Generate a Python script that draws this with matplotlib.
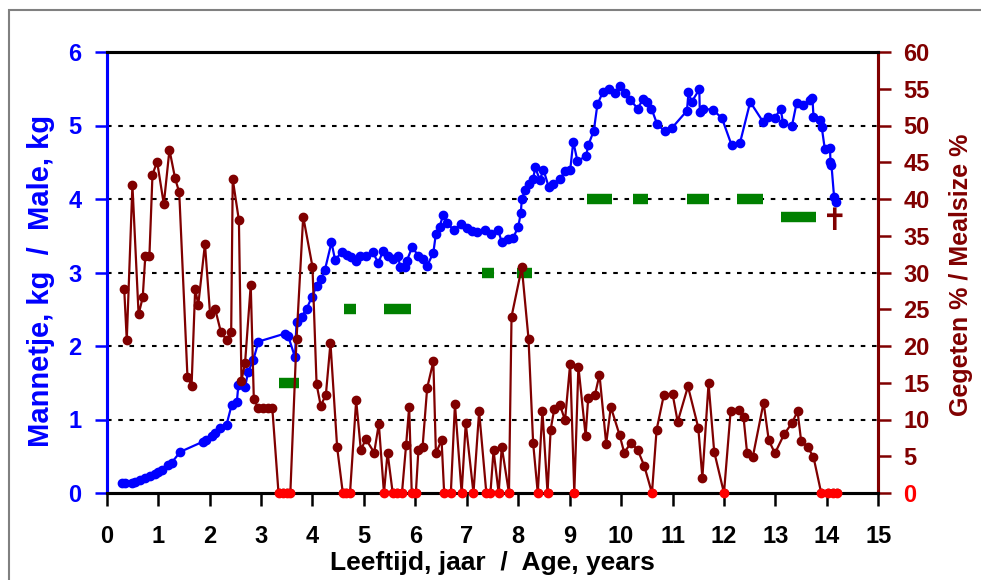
import matplotlib
matplotlib.use("Agg")
import matplotlib.pyplot as plt
from matplotlib.patches import Rectangle

plt.rcParams["font.family"] = ["Liberation Sans", "DejaVu Sans"]
plt.rcParams["font.weight"] = "bold"

# male weight (kg) against age (years)
age_kg = [0.29, 0.35, 0.49, 0.55, 0.65, 0.75, 0.84, 0.94, 1.00, 1.07, 1.20, 1.26, 1.43,
          1.88, 1.94, 2.04, 2.11, 2.20, 2.33, 2.43, 2.53, 2.56, 2.69, 2.75, 2.85, 2.95,
          3.47, 3.53, 3.66, 3.69, 3.79, 3.89, 3.99, 4.08, 4.16, 4.24, 4.37, 4.44, 4.57,
          4.67, 4.74, 4.85, 4.92, 5.04, 5.17, 5.28, 5.37, 5.46, 5.57, 5.67, 5.70, 5.80,
          5.83, 5.94, 6.06, 6.15, 6.23, 6.35, 6.40, 6.47, 6.54, 6.61, 6.75, 6.88, 7.00,
          7.10, 7.19, 7.35, 7.48, 7.61, 7.68, 7.81, 7.90, 8.00, 8.05, 8.07, 8.13, 8.20,
          8.29, 8.33, 8.42, 8.49, 8.59, 8.68, 8.81, 8.91, 9.01, 9.07, 9.15, 9.32, 9.36,
          9.47, 9.54, 9.65, 9.77, 9.88, 9.98, 10.08, 10.18, 10.32, 10.43, 10.50, 10.59,
          10.70, 10.85, 10.98, 11.28, 11.31, 11.37, 11.52, 11.53, 11.60, 11.79, 11.96,
          12.15, 12.31, 12.51, 12.76, 12.86, 12.99, 13.10, 13.15, 13.32, 13.41, 13.54,
          13.67, 13.72, 13.74, 13.87, 13.90, 13.96, 14.06, 14.07, 14.09, 14.14, 14.18]
weight_kg = [0.14, 0.14, 0.14, 0.15, 0.18, 0.20, 0.23, 0.26, 0.28, 0.31, 0.38, 0.41, 0.56,
             0.70, 0.72, 0.77, 0.81, 0.88, 0.93, 1.20, 1.24, 1.47, 1.44, 1.65, 1.81, 2.06,
             2.17, 2.13, 1.85, 2.32, 2.40, 2.51, 2.67, 2.81, 2.91, 3.03, 3.41, 3.17, 3.28,
             3.24, 3.21, 3.15, 3.22, 3.22, 3.28, 3.13, 3.29, 3.22, 3.19, 3.22, 3.08, 3.07,
             3.15, 3.35, 3.22, 3.19, 3.09, 3.27, 3.53, 3.62, 3.78, 3.67, 3.58, 3.66, 3.60,
             3.57, 3.55, 3.58, 3.53, 3.58, 3.41, 3.45, 3.47, 3.62, 3.81, 4.00, 4.12, 4.20,
             4.27, 4.43, 4.26, 4.40, 4.17, 4.21, 4.27, 4.38, 4.39, 4.78, 4.52, 4.58, 4.73,
             4.93, 5.29, 5.46, 5.49, 5.44, 5.54, 5.44, 5.35, 5.23, 5.36, 5.32, 5.23,
             5.02, 4.92, 4.96, 5.20, 5.45, 5.32, 5.49, 5.19, 5.23, 5.21, 5.10,
             4.73, 4.76, 5.32, 5.05, 5.11, 5.10, 5.23, 5.03, 4.99, 5.30, 5.28,
             5.35, 5.37, 5.12, 5.07, 4.98, 4.68, 4.70, 4.51, 4.46, 4.03, 3.96]

# meal size (% of body weight) against age (years)
age_meal = [0.34, 0.39, 0.50, 0.62, 0.70, 0.75, 0.83, 0.89, 0.98, 1.11, 1.22, 1.33, 1.41,
            1.57, 1.65, 1.72, 1.78, 1.91, 2.01, 2.11, 2.22, 2.33, 2.42, 2.45, 2.57, 2.62,
            2.69, 2.80, 2.86, 2.95, 3.04, 3.14, 3.22, 3.34, 3.42, 3.50, 3.57, 3.69, 3.82,
            4.00, 4.08, 4.16, 4.26, 4.35, 4.48, 4.59, 4.66, 4.73, 4.85, 4.94, 5.04, 5.20,
            5.29, 5.39, 5.46, 5.56, 5.64, 5.74, 5.82, 5.88, 5.93, 6.01, 6.06, 6.14, 6.23,
            6.35, 6.40, 6.51, 6.56, 6.69, 6.77, 6.90, 6.98, 7.13, 7.24, 7.38, 7.46, 7.52,
            7.62, 7.68, 7.82, 7.87, 8.07, 8.20, 8.29, 8.38, 8.47, 8.57, 8.63, 8.70, 8.81,
            8.91, 9.01, 9.09, 9.17, 9.31, 9.36, 9.49, 9.58, 9.71, 9.80, 9.97, 10.06, 10.19,
            10.32, 10.45, 10.60, 10.69, 10.83, 11.00, 11.10, 11.30, 11.50, 11.58, 11.70,
            11.81, 12.00, 12.13, 12.29, 12.38, 12.45, 12.56, 12.77, 12.87, 12.99, 13.17,
            13.32, 13.43, 13.50, 13.63, 13.74, 13.89, 14.02, 14.12, 14.19]
meal_pct = [27.8, 20.8, 41.9, 24.3, 26.6, 32.2, 32.2, 43.3, 45.1, 39.3, 46.7, 42.8, 40.9,
            15.8, 14.6, 27.8, 25.6, 33.9, 24.3, 25.0, 21.9, 20.8, 21.9, 42.7, 37.1, 15.3,
            17.7, 28.3, 12.8, 11.5, 11.5, 11.5, 11.5, 0, 0, 0, 0, 20.9, 37.6,
            30.8, 14.8, 11.9, 13.3, 20.4, 6.2, 0, 0, 0, 12.6, 5.9, 7.3, 5.5,
            9.4, 0, 5.5, 0, 0, 0, 6.5, 11.7, 0, 0, 5.9, 6.2, 14.3,
            17.9, 5.4, 7.2, 0, 0, 12.1, 0, 9.5, 0, 11.1, 0, 0, 5.8,
            0, 6.3, 0, 24.0, 30.7, 21.0, 6.8, 0, 11.2, 0, 8.6, 11.4, 12.0,
            9.9, 17.6, 0, 17.2, 7.8, 12.9, 13.3, 16.1, 6.7, 11.7, 7.9, 5.5, 6.8,
            5.9, 3.7, 0, 8.6, 13.3, 13.5, 9.7, 14.5, 8.9, 2.1, 14.9,
            5.6, 0, 11.2, 11.3, 10.3, 5.4, 4.9, 12.3, 7.2, 5.4, 8.0,
            9.5, 11.1, 7.1, 6.2, 4.9, 0, 0, 0, 0]

# green period bars (right axis level)
bar_start = [3.34, 4.61, 5.39, 7.30, 7.98, 9.33, 10.24, 11.29, 12.26, 13.11]
bar_end = [3.73, 4.84, 5.91, 7.53, 8.27, 9.83, 10.53, 11.71, 12.75, 13.78]
bar_level = [15, 25, 25, 30, 30, 40, 40, 40, 40, 37.5]

death_age = 14.16
death_level = 37.0

BLUE = "#0000FF"
MAROON = "#800000"
RED = "#FF0000"
GREEN = "#008000"

fig = plt.figure(figsize=(9.81, 5.8), dpi=100)
fig.patches.append(Rectangle((9 / 981, -0.1), 1.2, 1 - 10 / 580 + 0.1,
                             transform=fig.transFigure, fill=False,
                             edgecolor="#808080", linewidth=1.5))

ax = fig.add_axes([106.7 / 981, 1 - 493 / 580, (878.3 - 106.7) / 981, (493 - 52) / 580])
ax2 = ax.twinx()

# grid
for v in [1, 2, 3, 4, 5]:
    ax.axhline(v, color="black", linestyle=(0, (2.2, 3.2)), linewidth=1.5, zorder=1)

ax.plot(age_kg, weight_kg, color=BLUE, lw=1.6, marker="o", ms=6, zorder=3)

ax2.hlines(bar_level, bar_start, bar_end, color=GREEN, lw=7.5, zorder=2)
ax2.plot(age_meal, meal_pct, color=MAROON, lw=1.6, marker="o", ms=6, zorder=3)
zero_x = [a for a, m in zip(age_meal, meal_pct) if m == 0]
zero_y = [m for m in meal_pct if m == 0]
ax2.plot(zero_x, zero_y, ls="none", color=RED, marker="o", ms=6, zorder=4, clip_on=False)
ax2.text(death_age, death_level, "\u271d", color=MAROON, fontsize=22,
         ha="center", va="center", family="DejaVu Sans", zorder=5)

ax.set_xlim(0, 15)
ax.set_ylim(0, 6)
ax2.set_ylim(0, 60)
ax.set_xticks(range(0, 16))
ax.set_yticks(range(0, 7))
ax2.set_yticks(range(0, 61, 5))

ax.tick_params(axis="x", direction="out", length=9, width=1.8, colors="black",
               labelsize=17, pad=14)
ax.tick_params(axis="y", direction="out", length=9, width=1.8, colors=BLUE,
               labelsize=17, pad=9)
ax2.tick_params(axis="y", direction="out", length=9, width=1.8, colors=MAROON,
                labelsize=17, pad=9)
for lab in ax.get_xticklabels() + ax.get_yticklabels() + ax2.get_yticklabels():
    lab.set_fontweight("bold")
ax2.get_yticklabels()[0].set_color(RED)

for a in (ax, ax2):
    a.spines["top"].set_color("black")
    a.spines["top"].set_linewidth(2.2)
    a.spines["bottom"].set_color("black")
    a.spines["bottom"].set_linewidth(2.2)
    a.spines["left"].set_color(BLUE)
    a.spines["left"].set_linewidth(2.2)
    a.spines["right"].set_color(MAROON)
    a.spines["right"].set_linewidth(2.2)

ax.set_xlabel("Leeftijd, jaar  /  Age, years", fontsize=19, fontweight="bold",
              color="black", labelpad=2)
ax.set_ylabel("Mannetje, kg  /  Male, kg", fontsize=21, fontweight="bold", color=BLUE)
ax2.set_ylabel("Gegeten % / Mealsize %", fontsize=18, fontweight="bold", color=MAROON)
ax.yaxis.set_label_coords(-(106.7 - 55) / (878.3 - 106.7), (493 - 281) / 441)
ax2.yaxis.set_label_coords(1 + (949 - 878.3) / (878.3 - 106.7), (493 - 275) / 441)
ax2.yaxis.label.set_rotation(90)

fig.savefig("out.png", dpi=100, facecolor="white")
